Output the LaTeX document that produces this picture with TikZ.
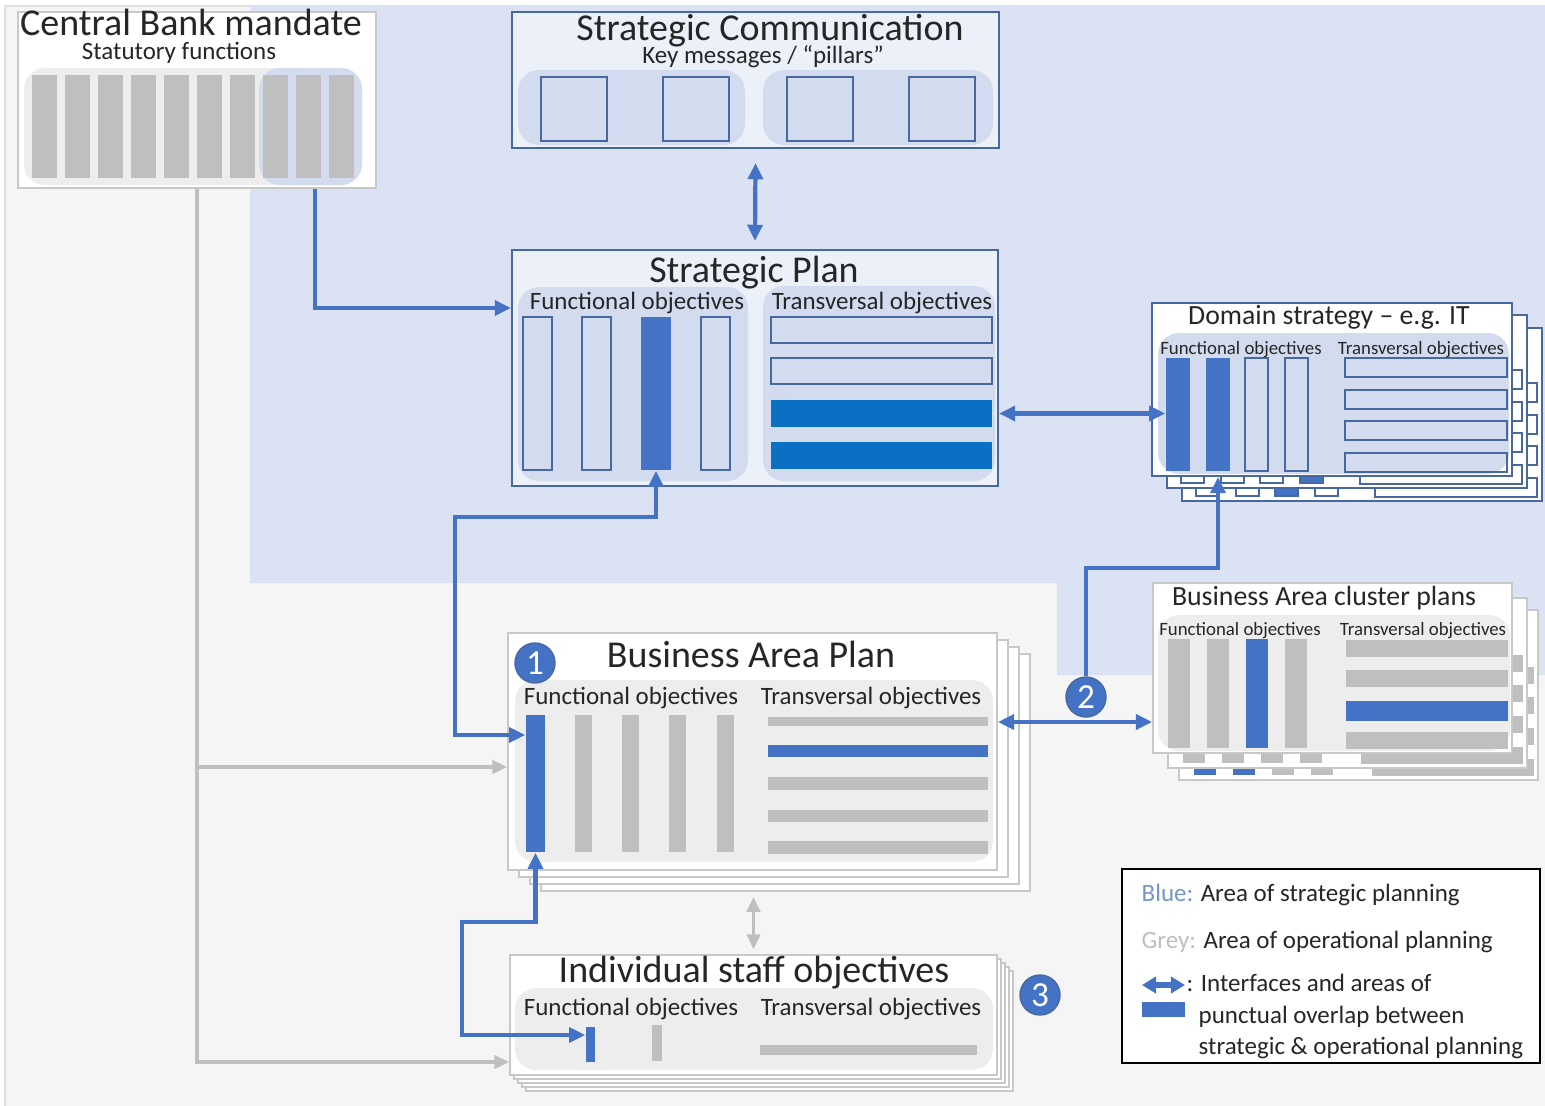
\documentclass[tikz,border=0pt]{standalone}
\usepackage{fontspec}
\setmainfont{Carlito}
\usetikzlibrary{arrows.meta,positioning,fit}

\definecolor{stratblue}{HTML}{4472C4}
\definecolor{deepblue}{HTML}{0B6FC4}
\definecolor{zoneblue}{HTML}{DAE2F3}
\definecolor{areablue}{HTML}{D3DCEF}
\definecolor{paneblue}{HTML}{EBF0F9}
\definecolor{boxblue}{HTML}{4868A2}
\definecolor{bargrey}{HTML}{BFBFBF}
\definecolor{areagrey}{HTML}{EDEDED}
\definecolor{boxgrey}{HTML}{C8C8C8}
\definecolor{pagegrey}{HTML}{F5F5F5}
\definecolor{ink}{HTML}{262626}
\definecolor{keyblue}{HTML}{7496CC}

\tikzset{
  panel/.style={draw=boxgrey, fill=white, line width=0.5pt, inner sep=0pt},
  bpanel/.style={draw=boxblue, fill=white, line width=0.6pt, inner sep=0pt},
  garea/.style={fill=areagrey, rounded corners=6pt},
  barea/.style={fill=areablue, rounded corners=6pt},
  gbar/.style={fill=bargrey, inner sep=0pt},
  sbar/.style={fill=stratblue, inner sep=0pt},
  dbar/.style={fill=deepblue, inner sep=0pt},
  obar/.style={draw=boxblue, line width=0.6pt, inner sep=0pt},
  ttl/.style={font=\fontsize{10.8}{13}\selectfont, text=ink, anchor=base, inner sep=0pt},
  head/.style={font=\fontsize{7.9}{9.5}\selectfont, text=ink, anchor=base, inner sep=0pt},
  sub/.style={font=\fontsize{7.1}{8.5}\selectfont, text=ink, anchor=base, inner sep=0pt},
  mini/.style={font=\fontsize{5.35}{6.5}\selectfont, text=ink, anchor=base, inner sep=0pt},
  leg/.style={font=\fontsize{7.1}{8.5}\selectfont, text=ink, anchor=base west, inner sep=0pt},
  num/.style={circle, fill=stratblue, draw=boxblue, line width=0.4pt, minimum size=0.4cm,
    inner sep=0pt, text=white, font=\fontsize{10}{12}\selectfont},
  link/.style={draw=stratblue, line width=1.2pt, ->, >={Triangle[length=4.6pt,width=4.2pt]}},
  dlink/.style={link, <->},
  glink/.style={draw=bargrey, line width=0.9pt, ->, >={Triangle[length=4.2pt,width=3.8pt]}},
  gdlink/.style={glink, <->},
}

\begin{document}
\begin{tikzpicture}[x=0.01cm,y=-0.01cm]
\useasboundingbox (0,0) rectangle (1545,1106);
\fill[white] (0,0) rectangle (1545,1106);
\fill[pagegrey] (5,6) rectangle (1545,1106);
\draw[boxgrey!60, line width=0.4pt] (5,1106) -- (5,6) -- (1545,6);
% strategic planning zone
\fill[zoneblue] (250,6) -- (1545,6) -- (1545,675) -- (1057,675) -- (1057,583) -- (250,583) -- cycle;

% Central Bank mandate
\node[panel, fit={(18,12) (376,188)}] (cbm) {};
\fill[garea] (24,68) rectangle (362,185);
\fill[barea] (259,68) rectangle (362,185);
\foreach \i in {0,...,9}
  \fill[bargrey] (32+33*\i,75) rectangle ++(25,103);
\node[ttl] (cbm-title) at (191,35) {Central Bank mandate};
\node[sub] (cbm-sub) at (179,60) {Statutory functions};

% Strategic Communication
\node[bpanel, fill=paneblue, fit={(512,12) (999,148)}] (sc) {};
\fill[barea] (518,70) rectangle (745,145);
\fill[barea] (763,70) rectangle (993,145);
\foreach \i/\xa in {1/541,2/663,3/787,4/909}
  \node[obar, fit={(\xa,77) (\xa+66,141)}] (sc-p\i) {};
\node[ttl] (sc-title) at (770,41) {Strategic Communication};
\node[sub] (sc-sub) at (763,64) {Key messages / “pillars”};

% Strategic Plan
\node[bpanel, fill=paneblue, fit={(512,250) (998,486)}] (sp) {};
\fill[barea] (518,287) rectangle (748,481);
\fill[barea] (763,286) rectangle (995,481);
\foreach \i/\xa in {1/523,2/582,4/701}
  \node[obar, fit={(\xa,317) (\xa+29,470)}] (sp-f\i) {};
\node[sbar, fit={(641,317) (671,470)}] (sp-f3) {};
\foreach \i/\ya in {1/317,2/358}
  \node[obar, fit={(771,\ya) (992,\ya+26)}] (sp-t\i) {};
\foreach \i/\ya in {3/400,4/442}
  \node[dbar, fit={(771,\ya) (992,\ya+27)}] (sp-t\i) {};
\node[ttl] (sp-title) at (754,282) {Strategic Plan};
\node[sub] (sp-fo) at (637,309) {Functional objectives};
\node[sub] (sp-to) at (882,309) {Transversal objectives};

% Domain strategy, stacked
\foreach \dx/\dy/\hx in {30/25/1245,15/12/1285}{
  \begin{scope}[shift={(\dx,\dy)}]
    \draw[bpanel] (1152,303) rectangle (1512,476);
    \foreach \xa in {1166,1206,1245,1285}
      \draw[obar] (\xa,358) rectangle ++(23,113);
    \draw[obar, fill=stratblue] (\hx,358) rectangle ++(23,113);
    \foreach \ya in {358,390,421,453}
      \draw[obar] (1345,\ya) rectangle ++(162,19);
  \end{scope}}
\node[bpanel, fit={(1152,303) (1512,476)}] (ds) {};
\fill[barea] (1158,333) rectangle (1509,474);
\foreach \i/\xa in {1/1166,2/1206}
  \node[sbar, fit={(\xa,358) (\xa+24,471)}] (ds-f\i) {};
\foreach \i/\xa in {3/1245,4/1285}
  \node[obar, fit={(\xa,358) (\xa+23,471)}] (ds-f\i) {};
\foreach \i/\ya in {1/358,2/390,3/421,4/453}
  \node[obar, fit={(1345,\ya) (1507,\ya+19)}] (ds-t\i) {};
\node[head] (ds-title) at (1329,324) {Domain strategy -- e.g. IT};
\node[mini] (ds-fo) at (1241,354) {Functional objectives};
\node[mini] (ds-to) at (1421,354) {Transversal objectives};

% Business Area cluster plans, stacked
\foreach \dx/\dy/\ca in {26/27/stratblue,15/15/bargrey}{
  \begin{scope}[shift={(\dx,\dy)}]
    \draw[panel] (1153,583) rectangle (1512,753);
    \foreach \xa in {1168,1207}
      \fill[\ca] (\xa,639) rectangle ++(22,109);
    \foreach \xa in {1246,1285}
      \fill[bargrey] (\xa,639) rectangle ++(22,109);
    \foreach \ya in {640,670,701,732}
      \fill[bargrey] (1346,\ya) rectangle ++(162,17);
  \end{scope}}
\node[panel, fit={(1153,583) (1512,753)}] (bac) {};
\fill[garea] (1158,615) rectangle (1510,751);
\foreach \i/\xa in {1/1168,2/1207,4/1285}
  \node[gbar, fit={(\xa,639) (\xa+22,748)}] (bac-f\i) {};
\node[sbar, fit={(1246,639) (1268,748)}] (bac-f3) {};
\foreach \i/\ya in {1/640,2/670,4/732}
  \node[gbar, fit={(1346,\ya) (1508,\ya+17)}] (bac-t\i) {};
\node[sbar, fit={(1346,701) (1508,721)}] (bac-t3) {};
\node[head] (bac-title) at (1324,605) {Business Area cluster plans};
\node[mini] (bac-fo) at (1240,635) {Functional objectives};
\node[mini] (bac-to) at (1423,635) {Transversal objectives};

% Business Area Plan, stacked
\foreach \dx/\dy in {33/21,22/14,11/7}
  \draw[panel] (508+\dx,633+\dy) rectangle (997+\dx,870+\dy);
\node[panel, fit={(508,633) (997,870)}] (bap) {};
\fill[garea] (515,680) rectangle (993,862);
\node[sbar, fit={(526,715) (545,852)}] (bap-f1) {};
\foreach \i/\xa in {2/575,3/622,4/669,5/717}
  \node[gbar, fit={(\xa,715) (\xa+17,852)}] (bap-f\i) {};
\foreach \i/\ya/\h in {1/717/9,3/777/13,4/810/12,5/841/13}
  \node[gbar, fit={(768,\ya) (988,\ya+\h)}] (bap-t\i) {};
\node[sbar, fit={(768,745) (988,757)}] (bap-t2) {};
\node[ttl] (bap-title) at (751,667) {Business Area Plan};
\node[sub] (bap-fo) at (631,704) {Functional objectives};
\node[sub] (bap-to) at (871,704) {Transversal objectives};

% Individual staff objectives, stacked
\foreach \d in {16,12,8,4}
  \draw[panel] (510+\d,955+\d) rectangle (997+\d,1075+\d);
\node[panel, fit={(510,955) (997,1075)}] (is) {};
\fill[garea] (515,988) rectangle (993,1070);
\node[sbar, fit={(586,1027) (595,1062)}] (is-f1) {};
\node[gbar, fit={(652,1025) (662,1061)}] (is-f2) {};
\node[gbar, fit={(760,1045) (977,1055)}] (is-t1) {};
\node[ttl] (is-title) at (754,982) {Individual staff objectives};
\node[sub] (is-fo) at (631,1015) {Functional objectives};
\node[sub] (is-to) at (871,1015) {Transversal objectives};

\node[num] (c1) at (535,663) {1};
\node[num] (c2) at (1086,697) {2};
\node[num] (c3) at (1040,995) {3};

% operational links
\draw[glink] (cbm.south) |- (is.west |- 0,1062);
\draw[glink] (cbm.south |- 0,767) -- (bap.west |- 0,767);
\draw[gdlink] ([yshift=0.05cm]is.north) -- (is.north |- 0,897);

% strategic links
\draw[link] (cbm.south -| 315,0) |- (sp.west |- 0,308);
\draw[dlink] ([yshift=-0.14cm]sc.south) -- ([yshift=0.08cm]sp.north);
\draw[dlink] (sp.east |- sp-t3) -- (ds-f1.west |- sp-t3);
\draw[dlink] (sp-f3.south) -- (sp-f3.south |- 0,517) -| (455,735) -- (bap-f1.west |- 0,735);
\draw[dlink] (is-f1.west |- 0,1035) -| (462,922) -| (bap-f1.south);
\draw[dlink] (bap.east |- 0,722) -- (bac.west |- 0,722);
\draw[link] (c2.north) |- (ds-f2.south |- 0,568) -- (ds.south -| ds-f2.south);

% key
\node[draw=black, fill=white, line width=0.6pt, inner sep=0pt, fit={(1122,869) (1540,1063)}] (key) {};
\node[leg] (key-1) at (1141,901) {\textcolor{keyblue}{Blue:} Area of strategic planning};
\node[leg] (key-2) at (1141,948) {\textcolor{bargrey}{Grey:} Area of operational planning};
\node[leg] (key-3) at (1186,991) {: Interfaces and areas of};
\node[leg] (key-4) at (1198,1023) {punctual overlap between};
\node[leg] (key-5) at (1198,1054) {strategic \& operational planning};
\draw[stratblue, line width=1.6pt, <->, >={Triangle[length=4pt,width=4.6pt]}] (1142,985) -- (1185,985);
\fill[stratblue] (1142,1002) rectangle (1185,1017);
\end{tikzpicture}
\end{document}
